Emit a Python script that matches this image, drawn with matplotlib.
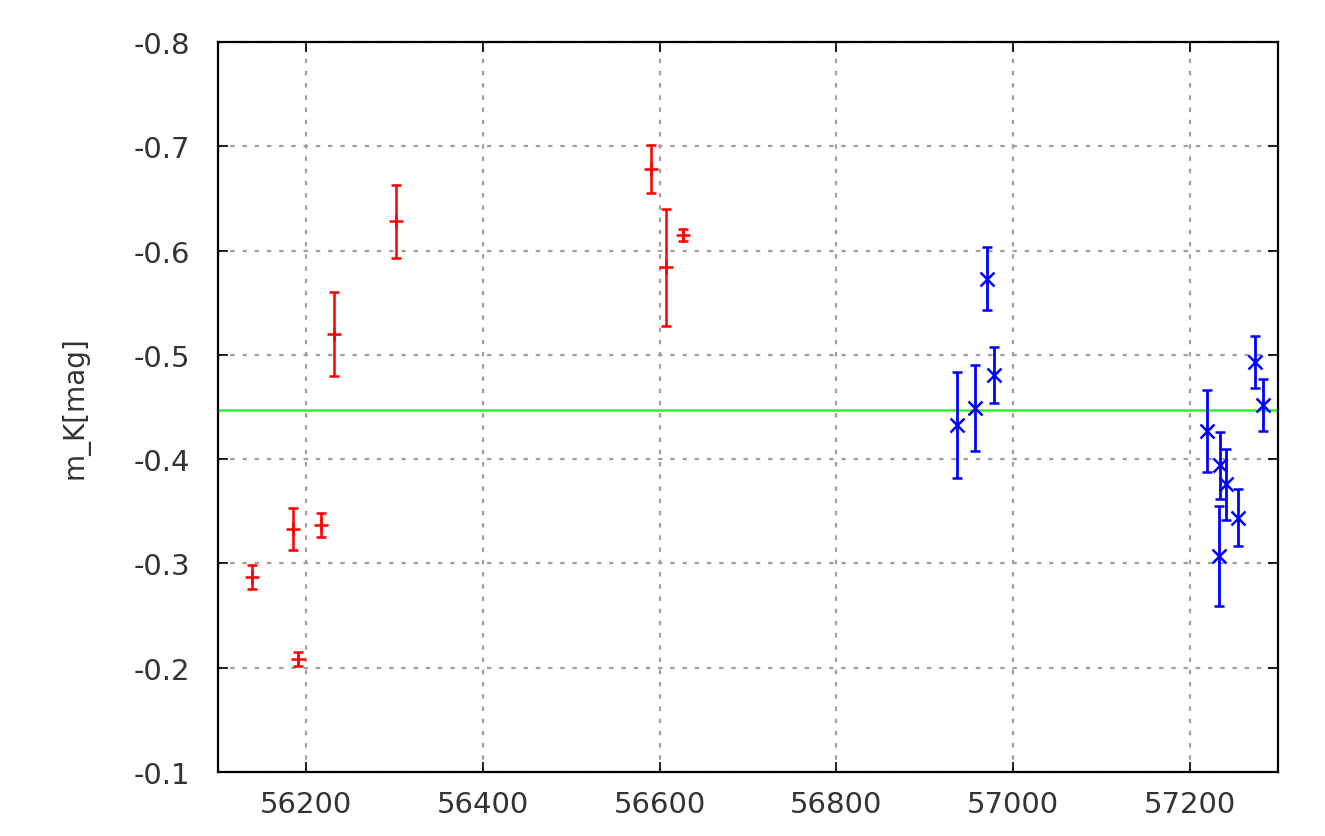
import matplotlib
matplotlib.use('Agg')
import matplotlib.pyplot as plt

# first epoch (red)
mjd_a = [56139, 56185, 56191, 56217, 56231, 56301, 56590, 56607, 56627]
mag_a = [-0.287, -0.333, -0.208, -0.337, -0.520, -0.628, -0.678, -0.584, -0.615]
err_a = [0.0115, 0.020, 0.0066, 0.0115, 0.040, 0.035, 0.023, 0.056, 0.0058]

# second epoch (blue)
mjd_b = [56937, 56957, 56971, 56979, 57220, 57234, 57241, 57233, 57255, 57274, 57283]
mag_b = [-0.433, -0.449, -0.573, -0.481, -0.427, -0.394, -0.376, -0.307, -0.344, -0.493, -0.452]
err_b = [0.051, 0.041, 0.030, 0.027, 0.039, 0.032, 0.034, 0.048, 0.027, 0.025, 0.025]

mean_mag = -0.447

plt.rcParams['font.family'] = 'DejaVu Sans'
fig = plt.figure(figsize=(13.25, 8.37), dpi=100)
ax = fig.add_axes([0.1645, 0.0765, 0.80, 0.8721])

ax.errorbar(mjd_a, mag_a, yerr=err_a, fmt='+', color='#ff0000', ms=10, mew=1.8,
            elinewidth=1.8, capsize=3.8, capthick=1.8, zorder=3)
ax.errorbar(mjd_b, mag_b, yerr=err_b, fmt='x', color='#0000ff', ms=10, mew=1.8,
            elinewidth=2, capsize=3.8, capthick=2, zorder=3)
ax.axhline(mean_mag, color='#33ee33', lw=1.8, zorder=2)

ax.set_xlim(56100, 57300)
ax.set_ylim(-0.1, -0.8)
ax.set_xticks([56200, 56400, 56600, 56800, 57000, 57200])
ax.set_yticks([-0.1, -0.2, -0.3, -0.4, -0.5, -0.6, -0.7, -0.8])
ax.set_yticklabels(['-0.1', '-0.2', '-0.3', '-0.4', '-0.5', '-0.6', '-0.7', '-0.8'])

ax.grid(True, color='#a0a0a0', linestyle=(0, (2, 3.5)), lw=1.6)
ax.set_axisbelow(True)
ax.tick_params(direction='in', length=7, width=1.2, top=True, right=True,
               labelsize=21, colors='black', labelcolor='#333333')
ax.tick_params(axis='x', pad=13)
ax.tick_params(axis='y', pad=20)
for s in ax.spines.values():
    s.set_linewidth(1.6)

ax.set_ylabel('m_K[mag]', fontsize=20, color='#333333', labelpad=32)

fig.savefig('out.png', dpi=100)
